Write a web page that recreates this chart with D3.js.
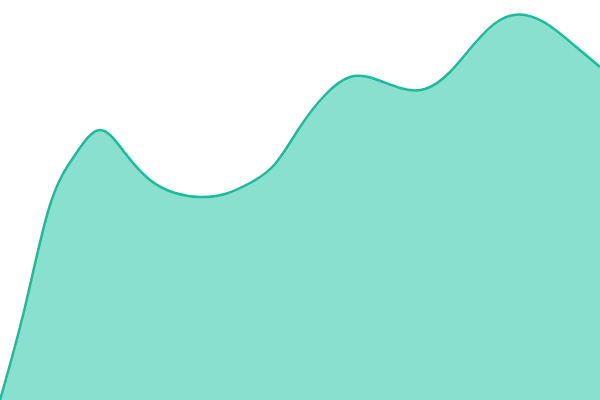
<!DOCTYPE html>
<html>
<head>
<meta charset="utf-8">
<script src="https://cdn.jsdelivr.net/npm/d3@7"></script>
<style>
  html, body { margin: 0; padding: 0; background: #fff; }
  svg { display: block; }
</style>
</head>
<body>
<div id="chart"></div>
<script>
// evenly spaced positions along the x axis and the values
var xValues = [0, 25, 50, 75, 100, 125, 150, 175, 200, 225, 250, 275, 300,
               325, 350, 375, 400, 425, 450, 475, 500, 525, 550, 575, 600];
var yValues = [0, 93, 195, 245, 270, 247, 220, 207, 203, 206, 217, 236, 273,
               305, 323, 321, 312, 311, 328, 357, 380, 385, 374, 354, 333];

var width = 600,
    height = 400;

var data = xValues.map(function(x, i) { return { x: x, y: yValues[i] }; });

var x = d3.scaleLinear().domain([0, 600]).range([0, width]);
var y = d3.scaleLinear().domain([0, 400]).range([height, 0]);

var svg = d3.select("#chart").append("svg")
    .attr("width", width)
    .attr("height", height);

var area = d3.area()
    .curve(d3.curveNatural)
    .x(function(d) { return x(d.x); })
    .y0(height)
    .y1(function(d) { return y(d.y); });

var line = d3.line()
    .curve(d3.curveNatural)
    .x(function(d) { return x(d.x); })
    .y(function(d) { return y(d.y); });

svg.append("path")
    .datum(data)
    .attr("fill", "#89e0cf")
    .attr("d", area);

svg.append("path")
    .datum(data)
    .attr("fill", "none")
    .attr("stroke", "#1abc9c")
    .attr("stroke-width", 2.5)
    .attr("d", line);
</script>
</body>
</html>
